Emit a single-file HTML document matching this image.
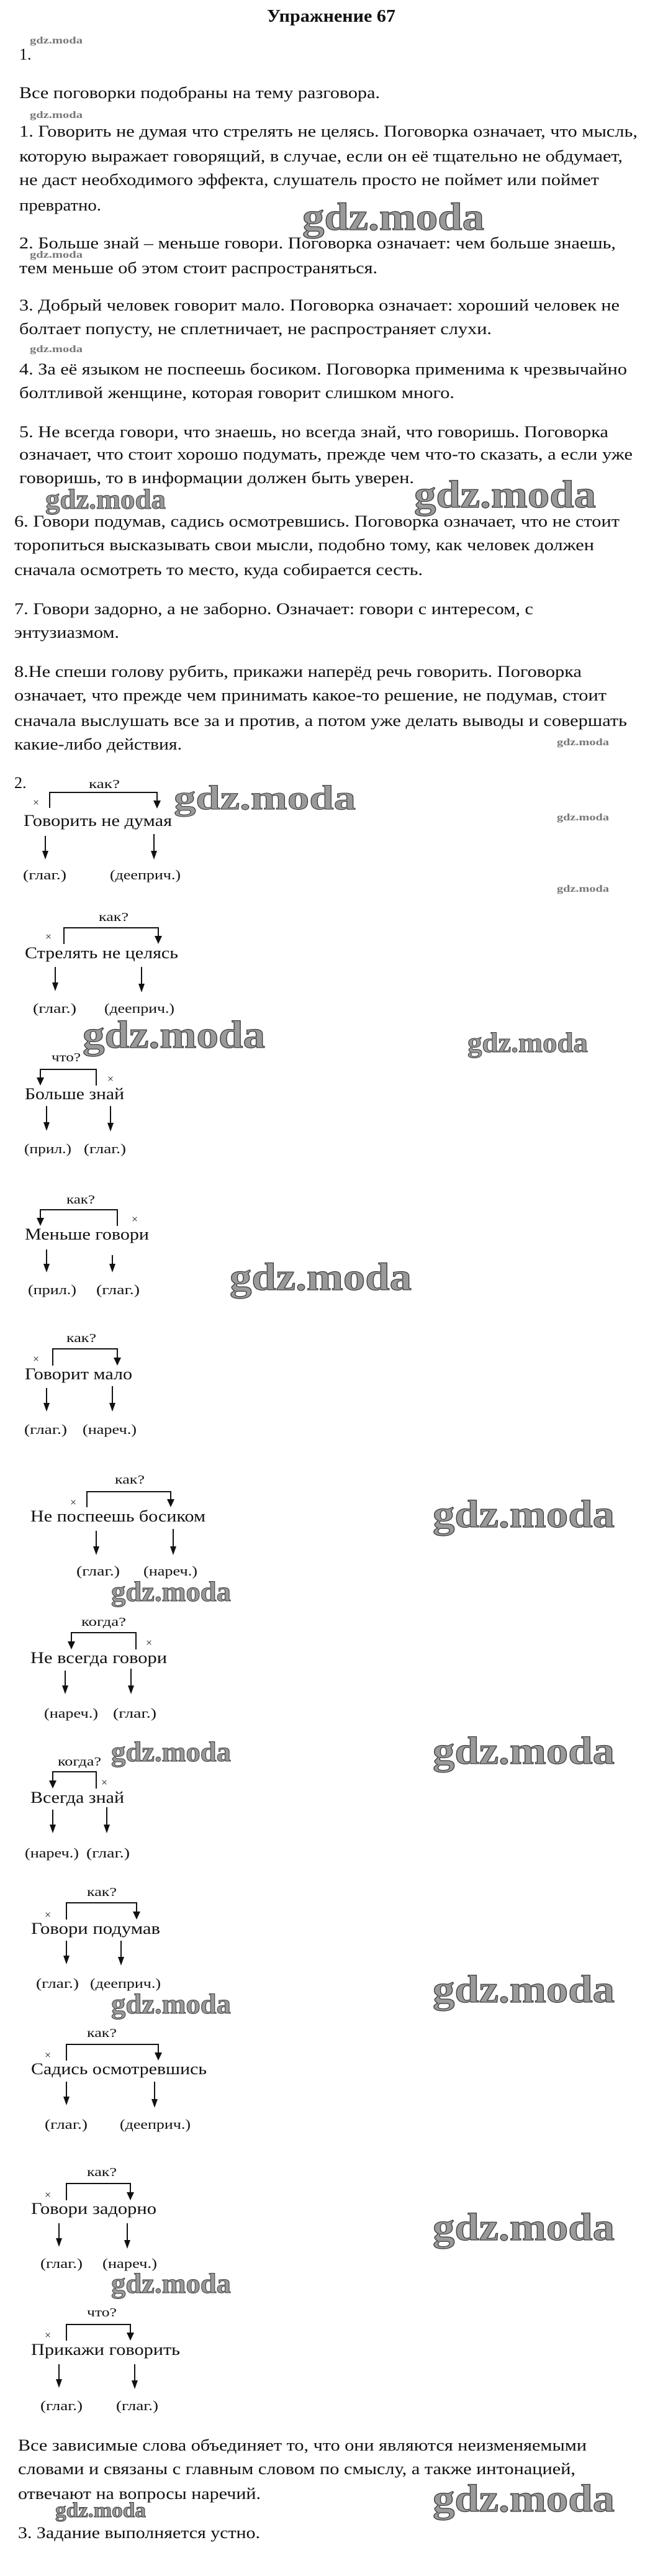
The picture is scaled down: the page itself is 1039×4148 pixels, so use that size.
<!DOCTYPE html>
<html><head><meta charset="utf-8"><style>
html,body{margin:0;padding:0;background:#fff;}
svg{display:block;}
text{font-family:"Liberation Serif","DejaVu Serif",serif;fill:#111;}
.b{font-size:26px;}
.l{font-size:22px;}
.q{font-size:20px;}
.x{font-size:18px;fill:#222;}
.wb{font-size:62px;font-weight:bold;fill:#9a9a9a;stroke:#3a3a3a;stroke-width:1.2px;}
.wm{font-size:45px;font-weight:bold;fill:#9a9a9a;stroke:#3a3a3a;stroke-width:1px;}
.ws{font-size:16px;font-weight:bold;fill:#777;}
line,polyline{stroke:#111;stroke-width:2;fill:none;}
polygon{fill:#111;}
</style></head><body>
<svg width="1039" height="4148" viewBox="0 0 1039 4148" xmlns="http://www.w3.org/2000/svg">
<text x="430" y="35" style="font-size:29px;font-weight:bold" textLength="207" lengthAdjust="spacingAndGlyphs">Упражнение 67</text>
<text class="ws" x="48" y="70" textLength="85" lengthAdjust="spacingAndGlyphs">gdz.moda</text>
<text class="b" x="31" y="96">1.</text>
<text class="b" x="31" y="158" textLength="581" lengthAdjust="spacingAndGlyphs">Все поговорки подобраны на тему разговора.</text>
<text class="ws" x="48" y="190" textLength="85" lengthAdjust="spacingAndGlyphs">gdz.moda</text>
<text class="b" x="31" y="220" textLength="996" lengthAdjust="spacingAndGlyphs">1. Говорить не думая что стрелять не целясь. Поговорка означает, что мысль,</text>
<text class="b" x="31" y="260" textLength="972" lengthAdjust="spacingAndGlyphs">которую выражает говорящий, в случае, если он её тщательно не обдумает,</text>
<text class="b" x="31" y="298" textLength="934" lengthAdjust="spacingAndGlyphs">не даст необходимого эффекта, слушатель просто не поймет или поймет</text>
<text class="b" x="31" y="339" textLength="132" lengthAdjust="spacingAndGlyphs">превратно.</text>
<text class="wb" x="487" y="370" textLength="293" lengthAdjust="spacingAndGlyphs">gdz.moda</text>
<text class="b" x="31" y="400" textLength="961" lengthAdjust="spacingAndGlyphs">2. Больше знай – меньше говори. Поговорка означает: чем больше знаешь,</text>
<text class="ws" x="48" y="415" textLength="85" lengthAdjust="spacingAndGlyphs">gdz.moda</text>
<text class="b" x="31" y="440" textLength="577" lengthAdjust="spacingAndGlyphs">тем меньше об этом стоит распространяться.</text>
<text class="b" x="31" y="500" textLength="967" lengthAdjust="spacingAndGlyphs">3. Добрый человек говорит мало. Поговорка означает: хороший человек не</text>
<text class="b" x="31" y="538" textLength="761" lengthAdjust="spacingAndGlyphs">болтает попусту, не сплетничает, не распространяет слухи.</text>
<text class="ws" x="48" y="567" textLength="85" lengthAdjust="spacingAndGlyphs">gdz.moda</text>
<text class="b" x="31" y="603" textLength="979" lengthAdjust="spacingAndGlyphs">4. За её языком не поспеешь босиком. Поговорка применима к чрезвычайно</text>
<text class="b" x="31" y="641" textLength="701" lengthAdjust="spacingAndGlyphs">болтливой женщине, которая говорит слишком много.</text>
<text class="b" x="31" y="704" textLength="949" lengthAdjust="spacingAndGlyphs">5. Не всегда говори, что знаешь, но всегда знай, что говоришь. Поговорка</text>
<text class="b" x="31" y="740" textLength="988" lengthAdjust="spacingAndGlyphs">означает, что стоит хорошо подумать, прежде чем что-то сказать, а если уже</text>
<text class="b" x="31" y="778" textLength="636" lengthAdjust="spacingAndGlyphs">говоришь, то в информации должен быть уверен.</text>
<text class="wm" x="73" y="819" textLength="194" lengthAdjust="spacingAndGlyphs">gdz.moda</text>
<text class="wb" x="667" y="817" textLength="293" lengthAdjust="spacingAndGlyphs">gdz.moda</text>
<text class="b" x="23" y="848" textLength="975" lengthAdjust="spacingAndGlyphs">6. Говори подумав, садись осмотревшись. Поговорка означает, что не стоит</text>
<text class="b" x="23" y="886" textLength="934" lengthAdjust="spacingAndGlyphs">торопиться высказывать свои мысли, подобно тому, как человек должен</text>
<text class="b" x="23" y="926" textLength="658" lengthAdjust="spacingAndGlyphs">сначала осмотреть то место, куда собирается сесть.</text>
<text class="b" x="23" y="989" textLength="836" lengthAdjust="spacingAndGlyphs">7. Говори задорно, а не заборно. Означает: говори с интересом, с</text>
<text class="b" x="23" y="1027" textLength="169" lengthAdjust="spacingAndGlyphs">энтузиазмом.</text>
<text class="b" x="23" y="1090" textLength="914" lengthAdjust="spacingAndGlyphs">8.Не спеши голову рубить, прикажи наперёд речь говорить. Поговорка</text>
<text class="b" x="23" y="1128" textLength="954" lengthAdjust="spacingAndGlyphs">означает, что прежде чем принимать какое-то решение, не подумав, стоит</text>
<text class="b" x="23" y="1169" textLength="987" lengthAdjust="spacingAndGlyphs">сначала выслушать все за и против, а потом уже делать выводы и совершать</text>
<text class="b" x="23" y="1207" textLength="270" lengthAdjust="spacingAndGlyphs">какие-либо действия.</text>
<text class="ws" x="897" y="1200" textLength="84" lengthAdjust="spacingAndGlyphs">gdz.moda</text>
<text class="b" x="23" y="1269">2.</text>

<!-- D1 -->
<text class="q" x="143" y="1269" textLength="50" lengthAdjust="spacingAndGlyphs">как?</text>
<polyline points="80,1301 80,1276 253,1276 253,1289"/><polygon points="247,1289 259,1289 253,1302"/>
<text class="x" x="53" y="1298">×</text>
<text class="b" x="38" y="1330" textLength="239" lengthAdjust="spacingAndGlyphs">Говорить не думая</text>
<text class="wm" x="280" y="1303" style="font-size:55px" textLength="293" lengthAdjust="spacingAndGlyphs">gdz.moda</text>
<text class="ws" x="897" y="1321" textLength="84" lengthAdjust="spacingAndGlyphs">gdz.moda</text>
<line x1="73" y1="1346" x2="73" y2="1372"/><polygon points="68,1370 78,1370 73,1384"/>
<line x1="248" y1="1343" x2="248" y2="1372"/><polygon points="243,1370 253,1370 248,1384"/>
<text class="l" x="37" y="1416" textLength="70" lengthAdjust="spacingAndGlyphs">(глаг.)</text>
<text class="l" x="177" y="1416" textLength="114" lengthAdjust="spacingAndGlyphs">(дееприч.)</text>
<text class="ws" x="897" y="1436" textLength="84" lengthAdjust="spacingAndGlyphs">gdz.moda</text>

<!-- D2 -->
<text class="q" x="159" y="1483" textLength="48" lengthAdjust="spacingAndGlyphs">как?</text>
<polyline points="103,1520 103,1494 255,1494 255,1507"/><polygon points="249,1507 261,1507 255,1520"/>
<text class="x" x="73" y="1514">×</text>
<text class="b" x="40" y="1543" textLength="247" lengthAdjust="spacingAndGlyphs">Стрелять не целясь</text>
<line x1="89" y1="1557" x2="89" y2="1584"/><polygon points="84,1582 94,1582 89,1596"/>
<line x1="228" y1="1557" x2="228" y2="1586"/><polygon points="223,1584 233,1584 228,1598"/>
<text class="l" x="53" y="1631" textLength="70" lengthAdjust="spacingAndGlyphs">(глаг.)</text>
<text class="l" x="168" y="1631" textLength="113" lengthAdjust="spacingAndGlyphs">(дееприч.)</text>
<text class="wb" x="133" y="1687" textLength="294" lengthAdjust="spacingAndGlyphs">gdz.moda</text>
<text class="wm" x="753" y="1694" textLength="194" lengthAdjust="spacingAndGlyphs">gdz.moda</text>

<!-- D3 -->
<text class="q" x="83" y="1709" textLength="47" lengthAdjust="spacingAndGlyphs">что?</text>
<polyline points="155,1748 155,1722 65,1722 65,1735"/><polygon points="59,1735 71,1735 65,1748"/>
<text class="x" x="173" y="1743">×</text>
<text class="b" x="40" y="1770" textLength="160" lengthAdjust="spacingAndGlyphs">Больше знай</text>
<line x1="75" y1="1781" x2="75" y2="1809"/><polygon points="70,1807 80,1807 75,1821"/>
<line x1="178" y1="1781" x2="178" y2="1810"/><polygon points="173,1808 183,1808 178,1822"/>
<text class="l" x="39" y="1857" textLength="76" lengthAdjust="spacingAndGlyphs">(прил.)</text>
<text class="l" x="135" y="1857" textLength="68" lengthAdjust="spacingAndGlyphs">(глаг.)</text>

<!-- D4 -->
<text class="q" x="107" y="1938" textLength="46" lengthAdjust="spacingAndGlyphs">как?</text>
<polyline points="189,1974 189,1948 65,1948 65,1961"/><polygon points="59,1961 71,1961 65,1974"/>
<text class="x" x="212" y="1969">×</text>
<text class="b" x="40" y="1996" textLength="200" lengthAdjust="spacingAndGlyphs">Меньше говори</text>
<line x1="75" y1="2012" x2="75" y2="2037"/><polygon points="70,2035 80,2035 75,2049"/>
<line x1="181" y1="2021" x2="181" y2="2037"/><polygon points="176,2035 186,2035 181,2049"/>
<text class="l" x="45" y="2084" textLength="78" lengthAdjust="spacingAndGlyphs">(прил.)</text>
<text class="l" x="155" y="2084" textLength="70" lengthAdjust="spacingAndGlyphs">(глаг.)</text>
<text class="wb" x="370" y="2077" textLength="293" lengthAdjust="spacingAndGlyphs">gdz.moda</text>

<!-- D5 -->
<text class="q" x="107" y="2161" textLength="48" lengthAdjust="spacingAndGlyphs">как?</text>
<polyline points="85,2199 85,2172 189,2172 189,2186"/><polygon points="183,2186 195,2186 189,2199"/>
<text class="x" x="53" y="2194">×</text>
<text class="b" x="40" y="2221" textLength="173" lengthAdjust="spacingAndGlyphs">Говорит мало</text>
<line x1="75" y1="2235" x2="75" y2="2261"/><polygon points="70,2259 80,2259 75,2273"/>
<line x1="181" y1="2232" x2="181" y2="2261"/><polygon points="176,2259 186,2259 181,2273"/>
<text class="l" x="39" y="2309" textLength="69" lengthAdjust="spacingAndGlyphs">(глаг.)</text>
<text class="l" x="133" y="2309" textLength="87" lengthAdjust="spacingAndGlyphs">(нареч.)</text>

<!-- D6 -->
<text class="q" x="185" y="2389" textLength="48" lengthAdjust="spacingAndGlyphs">как?</text>
<polyline points="140,2427 140,2402 275,2402 275,2414"/><polygon points="269,2414 281,2414 275,2427"/>
<text class="x" x="113" y="2425">×</text>
<text class="b" x="49" y="2450" textLength="282" lengthAdjust="spacingAndGlyphs">Не поспеешь босиком</text>
<line x1="155" y1="2465" x2="155" y2="2492"/><polygon points="150,2490 160,2490 155,2504"/>
<line x1="279" y1="2462" x2="279" y2="2492"/><polygon points="274,2490 284,2490 279,2504"/>
<text class="l" x="123" y="2537" textLength="70" lengthAdjust="spacingAndGlyphs">(глаг.)</text>
<text class="l" x="231" y="2537" textLength="87" lengthAdjust="spacingAndGlyphs">(нареч.)</text>
<text class="wb" x="697" y="2459" textLength="293" lengthAdjust="spacingAndGlyphs">gdz.moda</text>
<text class="wm" x="179" y="2578" textLength="193" lengthAdjust="spacingAndGlyphs">gdz.moda</text>

<!-- D7 -->
<text class="q" x="131" y="2618" textLength="72" lengthAdjust="spacingAndGlyphs">когда?</text>
<polyline points="219,2656 219,2629 115,2629 115,2643"/><polygon points="109,2643 121,2643 115,2656"/>
<text class="x" x="235" y="2651">×</text>
<text class="b" x="49" y="2678" textLength="220" lengthAdjust="spacingAndGlyphs">Не всегда говори</text>
<line x1="105" y1="2690" x2="105" y2="2716"/><polygon points="100,2714 110,2714 105,2728"/>
<line x1="211" y1="2687" x2="211" y2="2716"/><polygon points="206,2714 216,2714 211,2728"/>
<text class="l" x="71" y="2766" textLength="87" lengthAdjust="spacingAndGlyphs">(нареч.)</text>
<text class="l" x="182" y="2766" textLength="70" lengthAdjust="spacingAndGlyphs">(глаг.)</text>

<!-- D8 -->
<text class="wm" x="179" y="2836" textLength="193" lengthAdjust="spacingAndGlyphs">gdz.moda</text>
<text class="q" x="93" y="2843" textLength="70" lengthAdjust="spacingAndGlyphs">когда?</text>
<text class="wb" x="697" y="2840" textLength="293" lengthAdjust="spacingAndGlyphs">gdz.moda</text>
<polyline points="155,2880 155,2853 85,2853 85,2867"/><polygon points="79,2867 91,2867 85,2880"/>
<text class="x" x="163" y="2876">×</text>
<text class="b" x="49" y="2903" textLength="151" lengthAdjust="spacingAndGlyphs">Всегда знай</text>
<line x1="85" y1="2914" x2="85" y2="2940"/><polygon points="80,2938 90,2938 85,2952"/>
<line x1="172" y1="2910" x2="172" y2="2940"/><polygon points="167,2938 177,2938 172,2952"/>
<text class="l" x="40" y="2991" textLength="87" lengthAdjust="spacingAndGlyphs">(нареч.)</text>
<text class="l" x="139" y="2991" textLength="70" lengthAdjust="spacingAndGlyphs">(глаг.)</text>

<!-- D9 -->
<text class="q" x="140" y="3053" textLength="48" lengthAdjust="spacingAndGlyphs">как?</text>
<polyline points="107,3091 107,3064 220,3064 220,3078"/><polygon points="214,3078 226,3078 220,3091"/>
<text class="x" x="72" y="3089">×</text>
<text class="b" x="50" y="3114" textLength="208" lengthAdjust="spacingAndGlyphs">Говори подумав</text>
<line x1="107" y1="3125" x2="107" y2="3151"/><polygon points="102,3149 112,3149 107,3163"/>
<line x1="195" y1="3125" x2="195" y2="3153"/><polygon points="190,3151 200,3151 195,3165"/>
<text class="l" x="58" y="3201" textLength="69" lengthAdjust="spacingAndGlyphs">(глаг.)</text>
<text class="l" x="145" y="3201" textLength="114" lengthAdjust="spacingAndGlyphs">(дееприч.)</text>
<text class="wb" x="697" y="3224" textLength="293" lengthAdjust="spacingAndGlyphs">gdz.moda</text>
<text class="wm" x="179" y="3242" textLength="193" lengthAdjust="spacingAndGlyphs">gdz.moda</text>

<!-- D10 -->
<text class="q" x="140" y="3280" textLength="48" lengthAdjust="spacingAndGlyphs">как?</text>
<polyline points="107,3318 107,3292 255,3292 255,3305"/><polygon points="249,3305 261,3305 255,3318"/>
<text class="x" x="72" y="3315">×</text>
<text class="b" x="50" y="3340" textLength="283" lengthAdjust="spacingAndGlyphs">Садись осмотревшись</text>
<line x1="107" y1="3352" x2="107" y2="3378"/><polygon points="102,3376 112,3376 107,3390"/>
<line x1="249" y1="3352" x2="249" y2="3382"/><polygon points="244,3380 254,3380 249,3394"/>
<text class="l" x="72" y="3428" textLength="69" lengthAdjust="spacingAndGlyphs">(глаг.)</text>
<text class="l" x="193" y="3428" textLength="114" lengthAdjust="spacingAndGlyphs">(дееприч.)</text>

<!-- D11 -->
<text class="q" x="140" y="3504" textLength="48" lengthAdjust="spacingAndGlyphs">как?</text>
<polyline points="107,3543 107,3516 210,3516 210,3530"/><polygon points="204,3530 216,3530 210,3543"/>
<text class="x" x="72" y="3540">×</text>
<text class="b" x="50" y="3565" textLength="202" lengthAdjust="spacingAndGlyphs">Говори задорно</text>
<line x1="95" y1="3580" x2="95" y2="3606"/><polygon points="90,3604 100,3604 95,3618"/>
<line x1="205" y1="3580" x2="205" y2="3609"/><polygon points="200,3607 210,3607 205,3621"/>
<text class="l" x="65" y="3652" textLength="68" lengthAdjust="spacingAndGlyphs">(глаг.)</text>
<text class="l" x="165" y="3652" textLength="88" lengthAdjust="spacingAndGlyphs">(нареч.)</text>
<text class="wb" x="697" y="3607" textLength="293" lengthAdjust="spacingAndGlyphs">gdz.moda</text>
<text class="wm" x="179" y="3692" textLength="193" lengthAdjust="spacingAndGlyphs">gdz.moda</text>

<!-- D12 -->
<text class="q" x="140" y="3730" textLength="48" lengthAdjust="spacingAndGlyphs">что?</text>
<polyline points="107,3769 107,3743 210,3743 210,3756"/><polygon points="204,3756 216,3756 210,3769"/>
<text class="x" x="72" y="3766">×</text>
<text class="b" x="50" y="3792" textLength="240" lengthAdjust="spacingAndGlyphs">Прикажи говорить</text>
<line x1="95" y1="3807" x2="95" y2="3833"/><polygon points="90,3831 100,3831 95,3845"/>
<line x1="217" y1="3807" x2="217" y2="3835"/><polygon points="212,3833 222,3833 217,3847"/>
<text class="l" x="65" y="3881" textLength="68" lengthAdjust="spacingAndGlyphs">(глаг.)</text>
<text class="l" x="187" y="3881" textLength="68" lengthAdjust="spacingAndGlyphs">(глаг.)</text>

<text class="b" x="29" y="3946" textLength="916" lengthAdjust="spacingAndGlyphs">Все зависимые слова объединяет то, что они являются неизменяемыми</text>
<text class="b" x="29" y="3984" textLength="898" lengthAdjust="spacingAndGlyphs">словами и связаны с главным словом по смыслу, а также интонацией,</text>
<text class="b" x="29" y="4024" textLength="391" lengthAdjust="spacingAndGlyphs">отвечают на вопросы наречий.</text>
<text class="wb" x="697" y="4044" textLength="293" lengthAdjust="spacingAndGlyphs">gdz.moda</text>
<text class="wm" x="89" y="4053" style="font-size:34px" textLength="146" lengthAdjust="spacingAndGlyphs">gdz.moda</text>
<text class="b" x="29" y="4087" textLength="390" lengthAdjust="spacingAndGlyphs">3. Задание выполняется устно.</text>
</svg>
</body></html>
